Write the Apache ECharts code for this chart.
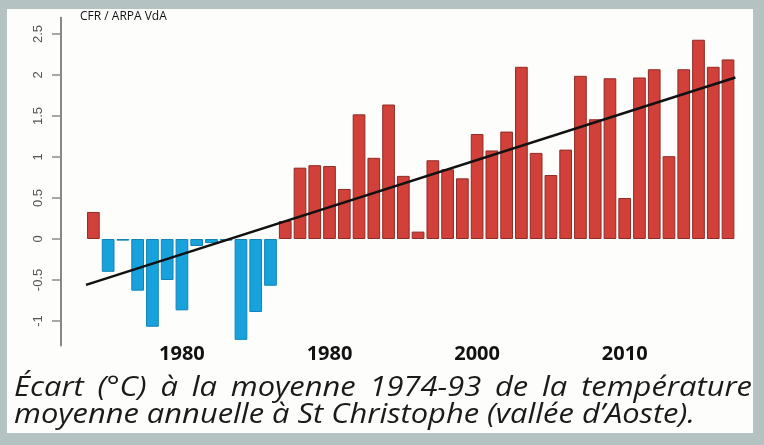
<!DOCTYPE html>
<html><head><meta charset="utf-8">
<script src="https://cdn.jsdelivr.net/npm/echarts@6/dist/echarts.min.js"></script>
<style>html,body{margin:0;padding:0;background:#b4c3c1}#c{width:764px;height:445px}</style>
</head><body><div id="c"></div>
<script>
// ---- data ----
const years = [1974,1975,1976,1977,1978,1979,1980,1981,1982,1983,1984,1985,1986,1987,1988,1989,1990,1991,1992,1993,
  1994,1995,1996,1997,1998,1999,2000,2001,2002,2003,2004,2005,2006,2007,2008,2009,2010,2011,2012,2013,2014,2015,2016,2017];
const anomalies = [0.33,-0.40,-0.02,-0.63,-1.07,-0.50,-0.87,-0.085,-0.05,-0.02,-1.23,-0.89,-0.57,0.22,0.87,0.90,0.89,0.61,1.52,0.99,
  1.64,0.77,0.09,0.96,0.85,0.74,1.28,1.08,1.31,2.10,1.05,0.78,1.09,1.99,1.46,1.96,0.50,1.97,2.07,1.01,2.07,2.43,2.10,2.19];
const trendYears = [1973.5, 2017.5];
const trendValues = [-0.56, 1.97];
const yTicks = [-1,-0.5,0,0.5,1,1.5,2,2.5];
const xTickYears = [1980,1990,2000,2010];
const xTickLabels = ['1980','1980','2000','2010'];
const sourceText = 'CFR / ARPA VdA';
const captionLine1 = 'Écart (°C) à la moyenne 1974-93 de la température';
const captionLine2 = 'moyenne annuelle à St Christophe (vallée d’Aoste).';

// ---- caption layout helpers ----
const capFont = 'italic 400 28px "Open Sans"';
const mctx = document.createElement('canvas').getContext('2d');
mctx.font = capFont;
const line2W = mctx.measureText(captionLine2).width;
const sx = 681 / line2W;
const words1 = captionLine1.split(' ');
const wW = words1.map(w => mctx.measureText(w).width * sx);
const totalW = wW.reduce((a,b)=>a+b,0);
const gap = (752 - 14 - totalW) / (words1.length - 1);
const capEls = [];
let cx = 14;
words1.forEach((w,i) => {
  capEls.push({type:'text', x:cx, y:388, scaleX:sx, z:100,
    style:{text:w, font:capFont, fill:'#1a1a1a', verticalAlign:'middle', align:'left'}});
  cx += wW[i] + gap;
});
capEls.push({type:'text', x:14, y:415, scaleX:sx, z:100,
  style:{text:captionLine2, font:capFont, fill:'#1a1a1a', verticalAlign:'middle', align:'left'}});

const chart = echarts.init(document.getElementById('c'));
chart.setOption({
  backgroundColor:'#b4c3c1',
  animation:false,
  grid:{left:86, right:28.6, top:17.6, bottom:99.4},
  xAxis:[{
    type:'category', data:years, boundaryGap:true,
    axisLine:{show:false}, axisTick:{show:false}, splitLine:{show:false},
    axisLabel:{
      interval:(i,v)=>xTickYears.includes(+v),
      formatter:(v)=>xTickLabels[xTickYears.indexOf(+v)],
      fontFamily:'"Open Sans"', fontWeight:'bold', fontSize:20, color:'#111', margin:-1
    }
  },{
    type:'value', min:trendYears[0], max:trendYears[1], show:false
  }],
  yAxis:{
    type:'value', min:-1.3, max:2.7, offset:25,
    splitLine:{show:false},
    axisLine:{show:true, lineStyle:{color:'#7a7a7a', width:1.8}},
    axisTick:{show:true, customValues:yTicks, length:9, lineStyle:{color:'#8a8a8a', width:1.5}},
    axisLabel:{customValues:yTicks, rotate:90, margin:16, fontSize:13, fontFamily:'"Liberation Sans"', color:'#555'}
  },
  series:[{
    type:'bar', xAxisIndex:0, barCategoryGap:'14%',
    data:anomalies.map(v=>({value:v, itemStyle: v>=0
      ? {color:'#d2403a', borderColor:'#8e2b26', borderWidth:1}
      : {color:'#17a2dc', borderColor:'#1283b8', borderWidth:1}}))
  },{
    type:'line', xAxisIndex:1, symbol:'none', z:5,
    data:trendYears.map((y,i)=>[y, trendValues[i]]),
    lineStyle:{color:'#111', width:2.5}
  }],
  graphic:{elements:[
    {type:'rect', z:-100, silent:true, shape:{x:7,y:9,width:746,height:424}, style:{fill:'#fdfdfc'}},
    {type:'text', x:80, y:17, z:100, style:{text:sourceText, font:'12px "Open Sans"', fill:'#111', verticalAlign:'middle'}},
    ...capEls
  ]}
});
</script></body></html>
